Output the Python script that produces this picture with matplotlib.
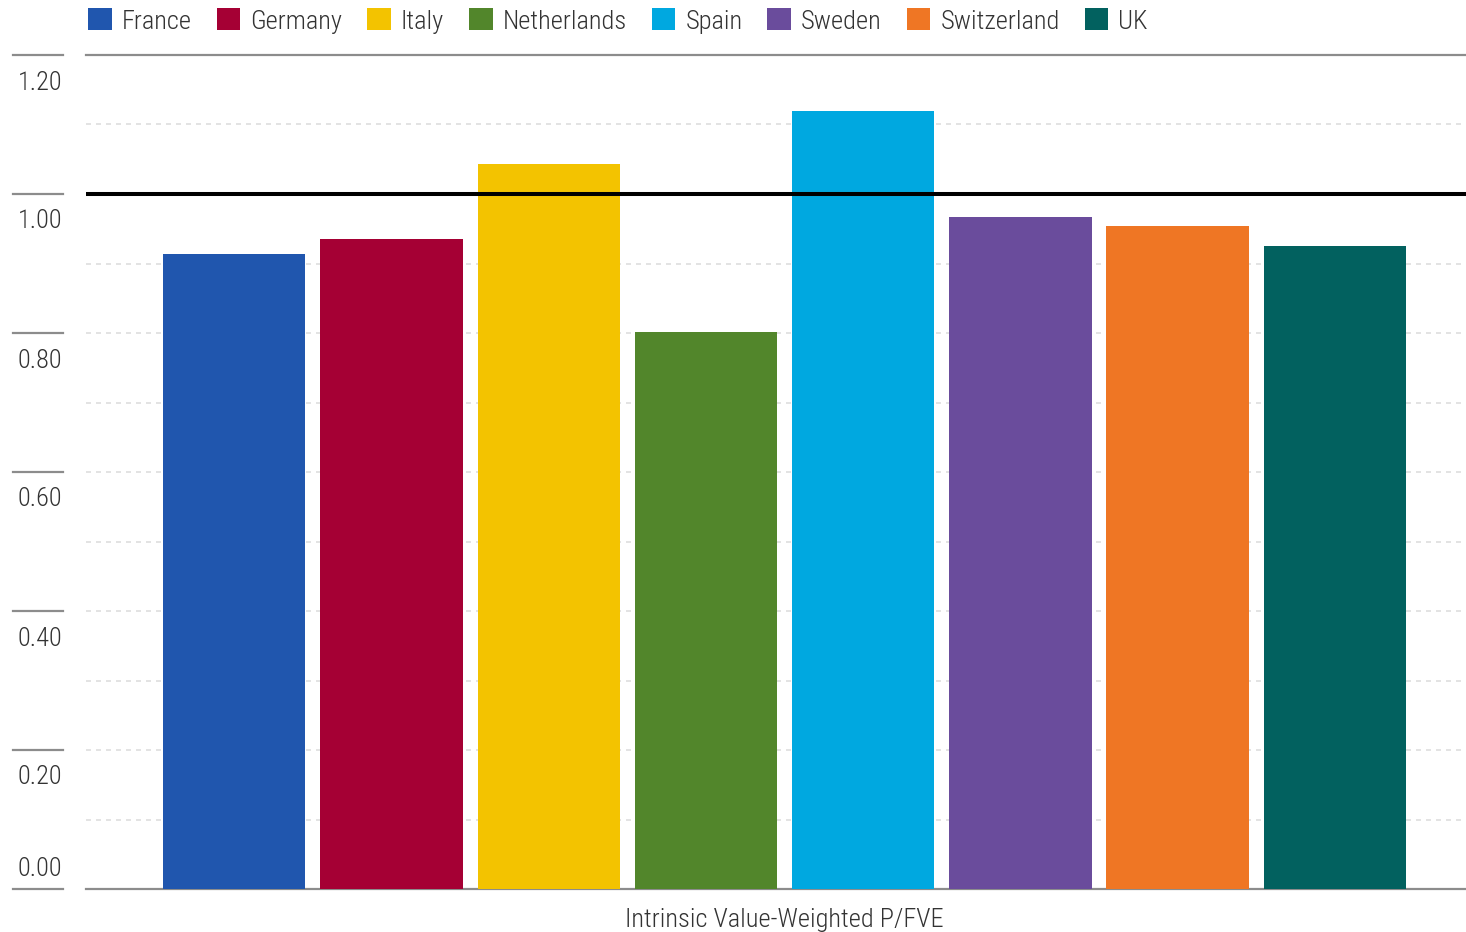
import matplotlib
matplotlib.use("Agg")
import matplotlib.pyplot as plt
import matplotlib.transforms as mtransforms
from matplotlib.patches import Patch

plt.rcParams['font.family'] = ['Roboto Condensed', 'DejaVu Sans']
plt.rcParams['font.weight'] = 300

countries = ["France", "Germany", "Italy", "Netherlands", "Spain", "Sweden", "Switzerland", "UK"]
pfve = [0.914, 0.935, 1.043, 0.801, 1.119, 0.967, 0.954, 0.925]
colors = ["#2056AE", "#A50034", "#F3C300", "#52862B", "#00A8E0", "#6A4C9C", "#EF7624", "#02615F"]
ytick_values = [0.0, 0.2, 0.4, 0.6, 0.8, 1.0, 1.2]
ytick_labels = ["0.00", "0.20", "0.40", "0.60", "0.80", "1.00", "1.20"]
grid_values = [0.1, 0.2, 0.3, 0.4, 0.5, 0.6, 0.7, 0.8, 0.9, 1.1]
xlabel = "Intrinsic Value-Weighted P/FVE"

W, H, DPI = 1466, 932, 100
FS = 19
fig = plt.figure(figsize=(W / DPI, H / DPI), dpi=DPI)
ax = fig.add_axes([86 / W, 1 - 889 / H, 1 - 86 / W, (889 - 55) / H])

text_color = "#333333"
line_gray = "#8c8c8c"

x = list(range(len(countries)))
ax.bar(x, pfve, width=0.905, color=colors, zorder=3)

ax.set_ylim(0, 1.2)
ax.set_xlim(-0.943, 7.834)

# dotted grid
for g in grid_values:
    ax.axhline(g, color="#dedede", lw=1.2, ls=(0, (3, 3)), zorder=1)

# top frame line and baseline
ax.axhline(1.2, color=line_gray, lw=1.6, zorder=2, clip_on=False)
ax.axhline(0.0, color=line_gray, lw=1.6, zorder=2, clip_on=False)
# reference line at parity
ax.axhline(1.0, color="black", lw=2.9, zorder=4)

for s in ax.spines.values():
    s.set_visible(False)
ax.set_xticks([])
ax.set_yticks([])

# custom y ticks: short rules at left with labels hanging beneath
blend = mtransforms.blended_transform_factory(fig.transFigure, ax.transData)
for v, lab in zip(ytick_values, ytick_labels):
    ax.plot([13 / W, 63 / W], [v, v], color=line_gray, lw=1.6, transform=blend, clip_on=False)
    dy = -25 if v > 0 else 23
    tr = blend + mtransforms.ScaledTranslation(0, dy / DPI, fig.dpi_scale_trans)
    ax.text(62 / W, v, lab, transform=tr, ha="right", va="center_baseline",
            fontsize=FS, color=text_color)

# axis title below the bars
xblend = mtransforms.blended_transform_factory(ax.transData, fig.transFigure)
ax.text(3.5, 1 - 917 / H, xlabel, transform=xblend, ha="center", va="center_baseline",
        fontsize=FS, color=text_color)

handles = [Patch(facecolor=c, edgecolor="none") for c in colors]
fig.legend(handles, countries, loc="center left", bbox_to_anchor=(88 / W, 1 - 21 / H),
           ncol=8, frameon=False, fontsize=FS, labelcolor=text_color,
           handlelength=0.9, handleheight=0.9, handletextpad=0.38, columnspacing=0.94,
           borderaxespad=0, borderpad=0)

fig.savefig("out.png", dpi=DPI)
